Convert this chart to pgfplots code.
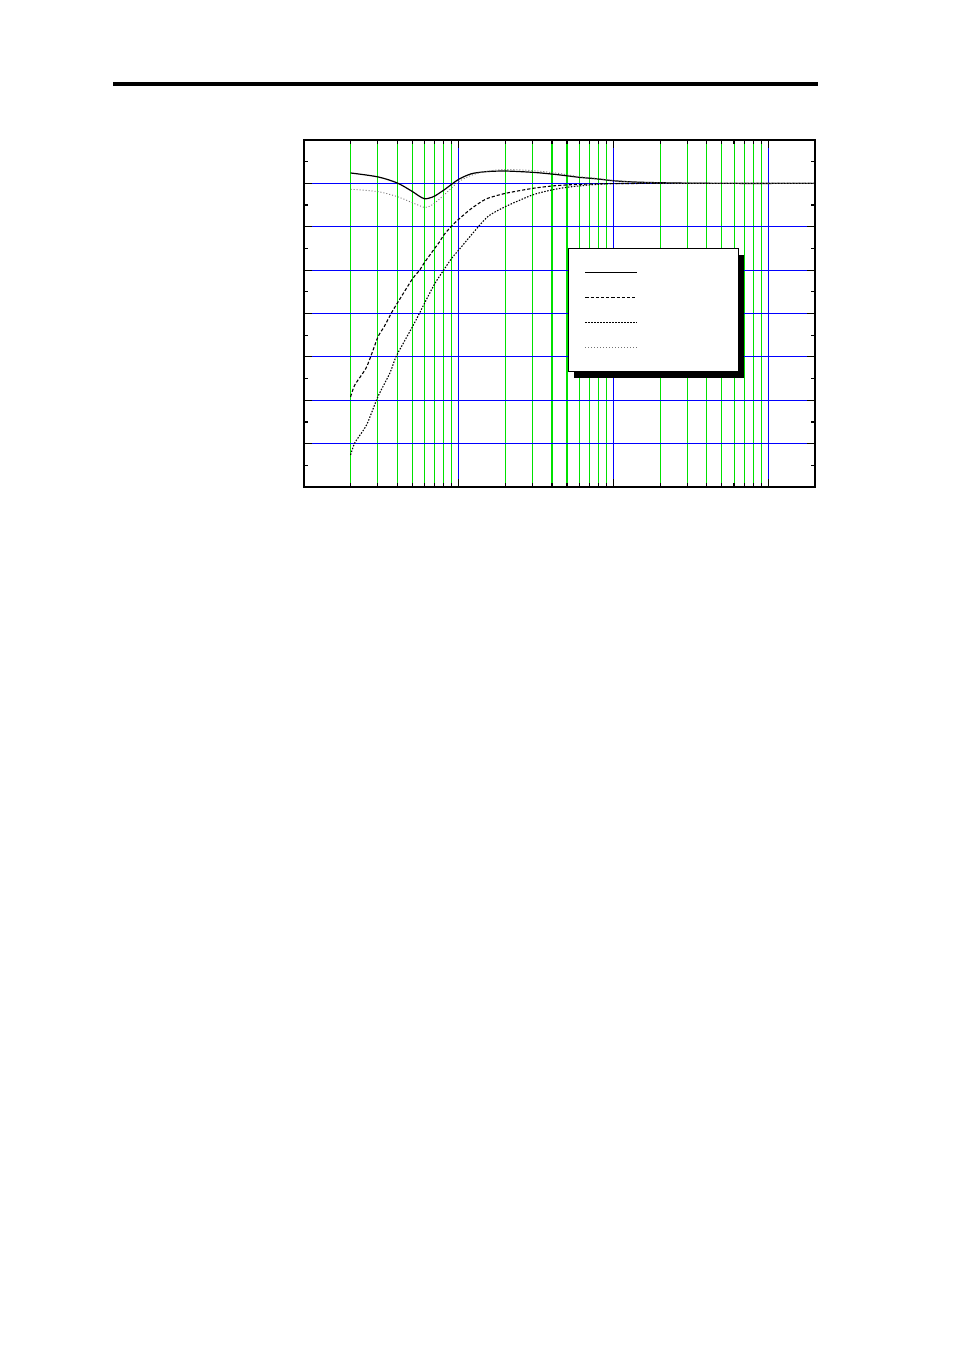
\documentclass[border=0pt]{standalone}
\usepackage{pgfplots}
\pgfplotsset{compat=1.18}
\usetikzlibrary{shadows}
\definecolor{gridgreen}{RGB}{0,225,0}
\definecolor{gridblue}{RGB}{0,0,255}
\makeatletter
\tikzset{no preactions/.code={\let\tikz@preactions\pgfutil@empty}}
\makeatother
\begin{document}
\begin{tikzpicture}
\path[use as bounding box] (0pt,0pt) rectangle (477pt,-675.5pt);
\fill[black] (56.5pt,-41pt) rectangle (409pt,-43pt);
\begin{axis}[
  at={(152pt,-243.5pt)}, anchor=south west,
  scale only axis, width=255.5pt, height=173.5pt,
  xmode=log, xmin=1, xmax=2000, ymin=-14, ymax=2,
  xtick={10,100,1000},
  minor xtick={2,3,4,5,6,7,8,9,20,30,40,50,60,70,80,90,200,300,400,500,600,700,800,900},
  ytick={-14,-12,...,2},
  minor ytick={-13,-11,...,1},
  xticklabels={}, yticklabels={},
  xmajorgrids=true, xminorgrids=true, ymajorgrids=true, yminorgrids=false,
  major grid style={gridblue, line width=0.5pt, solid},
  minor grid style={gridgreen, line width=0.55pt, solid},
  major tick length=4pt, minor tick length=2pt,
  tick style={black, line width=0.6pt},
  axis line style={line width=1pt},
  legend style={
    at={(axis description cs:0.5166,0.6888)}, anchor=north west,
    draw=black, line width=0.5pt, fill=white,
    inner xsep=0pt, inner ysep=5.75pt, row sep=0pt, column sep=0pt,
    nodes={no preactions, draw=none, fill=none, inner sep=0pt, text width=50pt, minimum height=12.5pt, anchor=center},
    drop shadow={shadow xshift=3pt, shadow yshift=-3pt, fill=black, opacity=1},
  },
  legend image code/.code={
    \path[no preactions, draw=none, fill=none] (0pt,-6.25pt) rectangle (34.5pt,6.25pt);
    \draw[no preactions, fill=none, #1] (8.5pt,0pt) -- (34.5pt,0pt);
  },
]
% solid
\addplot[black, line width=0.6pt, smooth, tension=0.5] coordinates {
(2,0.48) (3,0.30) (4,0.02) (5,-0.37) (5.5,-0.57) (6,-0.71) (6.5,-0.67) (7,-0.58)
(8,-0.31) (9,-0.04) (10,0.19) (12,0.44) (15,0.54) (20,0.57) (30,0.51) (40,0.43)
(50,0.35) (60,0.28) (80,0.20) (100,0.12) (140,0.06) (200,0.03) (300,0.01) (500,0) (2000,0)
};
\addlegendentry{\mbox{}}
% dashed
\addplot[black, line width=0.55pt, dash pattern=on 1.6pt off 1pt, smooth, tension=0.4] coordinates {
(2,-9.84) (2.13,-9.29) (2.54,-8.46) (3,-7.09) (3.3,-6.6) (3.68,-5.96) (4,-5.53) (5,-4.42)
(5.6,-3.99) (6,-3.65) (7,-2.99) (7.54,-2.68) (8,-2.38) (9,-1.96) (10,-1.65) (12,-1.17)
(15,-0.72) (20,-0.46) (30,-0.23) (40,-0.12) (50,-0.07) (70,-0.03) (100,-0.01) (200,0) (2000,0)
};
\addlegendentry{\mbox{}}
% dotted black
\addplot[black, line width=0.55pt, dash pattern=on 0.75pt off 0.75pt, smooth, tension=0.4] coordinates {
(2,-12.52) (2.13,-11.96) (2.54,-11.13) (3,-9.84) (3.59,-8.74) (3.92,-8.01) (4.38,-7.37)
(5,-6.63) (5.6,-5.96) (6,-5.53) (7,-4.62) (8,-3.99) (9,-3.45) (10,-3.07) (12.3,-2.30)
(15.4,-1.53) (20,-1.07) (30,-0.53) (40,-0.30) (50,-0.18) (70,-0.07) (100,-0.01) (200,0) (2000,0)
};
\addlegendentry{\mbox{}}
% dotted gray
\addplot[black!55, line width=0.45pt, dash pattern=on 0.5pt off 1pt, smooth, tension=0.5] coordinates {
(2,-0.27) (3,-0.38) (4,-0.61) (5,-0.89) (5.5,-1.01) (6,-1.11) (6.5,-1.05) (7,-0.90)
(8,-0.55) (9,-0.20) (10,0.08) (12,0.37) (15,0.55) (20,0.64) (30,0.59) (40,0.50)
(50,0.40) (60,0.31) (80,0.22) (100,0.13) (140,0.06) (200,0.02) (300,0) (2000,0)
};
\addlegendentry{\mbox{}}
\end{axis}
\end{tikzpicture}
\end{document}
